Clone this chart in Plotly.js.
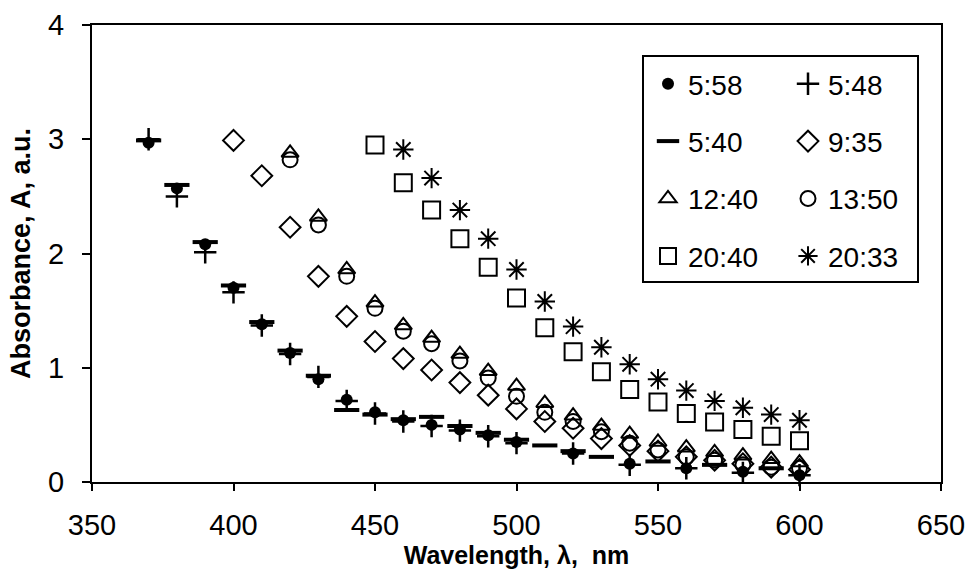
<!DOCTYPE html>
<html>
<head>
<meta charset="utf-8">
<script src="https://cdn.plot.ly/plotly-3.0.1.min.js"></script>
<style>html,body{margin:0;padding:0;background:#fff;}#chart{width:968px;height:577px;}</style>
</head>
<body>
<div id="chart"></div>
<script>
// Wavelength grid (nm)
var wavelengths = [370,380,390,400,410,420,430,440,450,460,470,480,490,500,510,520,530,540,550,560,570,580,590,600];

// Series values (absorbance, a.u.) aligned with wavelengths; null = no point
var s_558 = [2.97,2.57,2.08,1.70,1.38,1.13,0.90,0.72,0.61,0.54,0.50,0.46,0.41,0.35,null,0.25,null,0.16,null,0.12,null,0.09,null,0.06];
var s_548 = [3.00,2.50,2.01,1.66,1.37,1.12,0.92,0.71,0.60,0.53,0.49,0.45,0.40,0.34,null,0.25,null,0.15,null,0.12,null,0.08,null,0.06];
var s_540 = [2.99,2.60,2.10,1.72,1.40,1.15,0.93,0.63,0.59,0.55,0.57,0.49,0.43,0.37,0.32,0.27,0.22,null,0.18,null,0.15,null,0.12,null];
var s_935 = [null,null,null,2.99,2.68,2.23,1.80,1.45,1.23,1.08,0.98,0.87,0.76,0.64,0.53,0.47,0.38,0.32,0.27,0.22,0.19,0.16,0.13,0.11];
var s_1240 = [null,null,null,null,null,2.88,2.32,1.86,1.57,1.37,1.26,1.12,0.97,0.84,0.69,0.58,0.49,0.42,0.35,0.30,0.26,0.23,0.20,0.17];
var s_1350 = [null,null,null,null,null,2.82,2.25,1.80,1.52,1.32,1.21,1.06,0.91,0.75,0.61,0.53,0.44,0.34,0.28,0.22,0.19,0.15,0.13,0.12];
var s_2040 = [null,null,null,null,null,null,null,null,2.95,2.62,2.38,2.13,1.88,1.61,1.35,1.14,0.965,0.81,0.70,0.60,0.525,0.46,0.40,0.36];
var s_2033 = [null,null,null,null,null,null,null,null,null,2.91,2.66,2.38,2.13,1.86,1.58,1.36,1.18,1.03,0.90,0.80,0.71,0.65,0.59,0.54];

// Legend labels
var names = ["5:58","5:48","5:40","9:35","12:40","13:50","20:40","20:33"];

var FONT = "Liberation Sans, Arial, sans-serif";

function tr(y, name, symbol, size, lw, legendName) {
  return {
    x: wavelengths, y: y, name: name, type: "scatter", mode: "markers",
    legend: legendName, legendgroup: name, cliponaxis: false,
    marker: {symbol: symbol, size: size, color: "black", line: {color: "black", width: lw}}
  };
}

var data = [
  tr(s_558, names[0], "circle", 12, 0, "legend"),
  tr(s_540, names[2], "line-ew-open", 18, 4, "legend"),
  tr(s_1240, names[4], "triangle-up-open", 15, 2, "legend"),
  tr(s_2040, names[6], "square-open", 17, 2, "legend"),
  tr(s_548, names[1], "cross-thin-open", 16, 2.5, "legend2"),
  tr(s_935, names[3], "diamond-open", 16, 2, "legend2"),
  tr(s_1350, names[5], "circle-open", 15, 2, "legend2"),
  tr(s_2033, names[7], "asterisk-open", 17, 2, "legend2")
];

var legendCommon = {
  orientation: "v", xref: "paper", yref: "paper",
  xanchor: "left", yanchor: "top",
  bgcolor: "rgba(0,0,0,0)", borderwidth: 0,
  font: {family: FONT, size: 28, color: "black"},
  itemsizing: "trace", tracegroupgap: 18, traceorder: "grouped"
};

var layout = {
  width: 968, height: 577,
  margin: {l: 92, r: 27, t: 25, b: 95, autoexpand: false},
  paper_bgcolor: "white", plot_bgcolor: "white",
  font: {family: FONT, color: "black"},
  showlegend: true,
  legend: Object.assign({}, legendCommon, {x: (648-92)/849, y: (482-59)/457}),
  legend2: Object.assign({}, legendCommon, {x: (788-92)/849, y: (482-59)/457}),
  xaxis: {
    range: [350, 650], tick0: 350, dtick: 50, automargin: false,
    ticks: "outside", ticklen: 7, tickwidth: 2, tickcolor: "black",
    showline: true, linewidth: 2, linecolor: "black", mirror: true,
    showgrid: false, zeroline: false,
    tickfont: {family: FONT, size: 29, color: "black"},
    ticklabelstandoff: 9,
    title: {text: "Wavelength, λ,&nbsp; nm", font: {family: FONT, size: 25, weight: 700, color: "black"}, standoff: 7}
  },
  yaxis: {
    range: [0, 4], tick0: 0, dtick: 1, automargin: false,
    ticks: "outside", ticklen: 8, tickwidth: 2, tickcolor: "black",
    showline: true, linewidth: 2, linecolor: "black", mirror: true,
    showgrid: false, zeroline: false,
    tickfont: {family: FONT, size: 29, color: "black"},
    ticklabelstandoff: 12,
    title: {text: "Absorbance, A, a.u.", font: {family: FONT, size: 27, weight: 700, color: "black"}, standoff: 10}
  },
  shapes: [{
    type: "rect", xref: "paper", yref: "paper",
    x0: (643-92)/849, x1: (918-92)/849, y0: (482-282)/457, y1: (482-56)/457,
    line: {color: "black", width: 2}, fillcolor: "rgba(0,0,0,0)", layer: "above"
  }]
};

Plotly.newPlot("chart", data, layout, {staticPlot: true, displayModeBar: false});
</script>
</body>
</html>
